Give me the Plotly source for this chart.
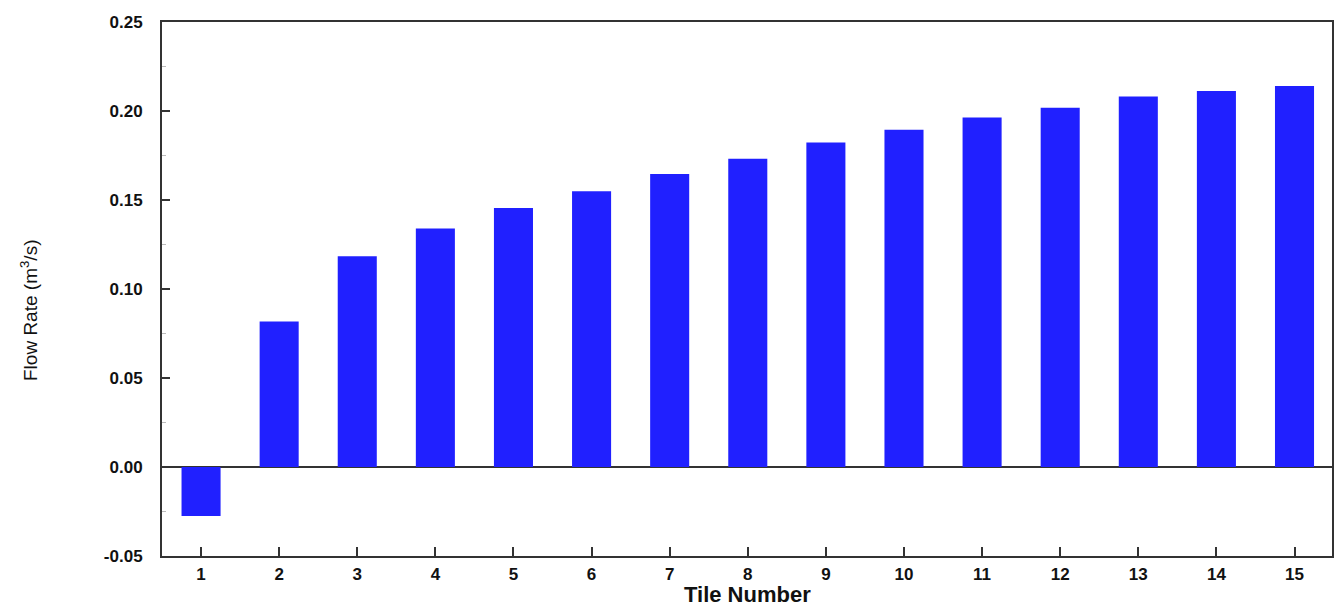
import plotly.graph_objects as go

tiles = list(range(1, 16))
flow_rate = [-0.0275, 0.0818, 0.1184, 0.134, 0.1455, 0.1549, 0.1646, 0.1732,
             0.1823, 0.1895, 0.1964, 0.2018, 0.2082, 0.2113, 0.2141]
y_ticks = [-0.05, 0.00, 0.05, 0.10, 0.15, 0.20, 0.25]
y_tick_text = ["-0.05", "0.00", "0.05", "0.10", "0.15", "0.20", "0.25"]

FONT = "Liberation Sans, Arial, sans-serif"
AX = "#333333"

fig = go.Figure(
    go.Bar(
        x=tiles,
        y=flow_rate,
        width=0.5,
        marker=dict(color="#2020FF", line=dict(width=0)),
    )
)

fig.update_layout(
    width=1335,
    height=612,
    margin=dict(l=162, r=1, t=22, b=56),
    paper_bgcolor="white",
    plot_bgcolor="white",
    showlegend=False,
    font=dict(family=FONT, color="#111111", size=17),
)

fig.update_xaxes(
    range=[0.5, 15.48],
    tickmode="array",
    tickvals=tiles,
    ticktext=[str(t) for t in tiles],
    ticks="inside",
    ticklen=9,
    tickwidth=2,
    tickcolor=AX,
    showline=True,
    linecolor=AX,
    linewidth=2,
    mirror=True,
    showgrid=False,
    zeroline=False,
    ticklabelstandoff=2,
    tickfont=dict(size=17, family=FONT, weight="bold"),
)

fig.update_yaxes(
    range=[-0.05, 0.25],
    tickmode="array",
    tickvals=y_ticks,
    ticktext=y_tick_text,
    ticks="inside",
    ticklen=8,
    tickwidth=2,
    tickcolor=AX,
    minor=dict(ticks="inside", ticklen=4, tickwidth=1, tickcolor="#bbbbbb", dtick=0.025,
               tick0=0, showgrid=False),
    showline=True,
    linecolor=AX,
    linewidth=2,
    mirror=True,
    showgrid=False,
    zeroline=True,
    zerolinecolor=AX,
    zerolinewidth=2,
    ticklabelstandoff=14,
    tickfont=dict(size=17, family=FONT, weight="bold"),
)

fig.add_annotation(
    text="Flow Rate (m<sup>3</sup>/s)",
    xref="paper", yref="paper", x=0, y=0.5, xshift=-133, yshift=-22,
    xanchor="center", yanchor="middle",
    textangle=-90, showarrow=False,
    font=dict(size=19, family=FONT, color="#111111"),
)
fig.add_annotation(
    text="<b>Tile Number</b>",
    xref="paper", yref="paper", x=0.5, y=0, yshift=-38,
    xanchor="center", yanchor="middle",
    showarrow=False,
    font=dict(size=22, family=FONT, color="#111111"),
)

fig.write_html("out.html")
